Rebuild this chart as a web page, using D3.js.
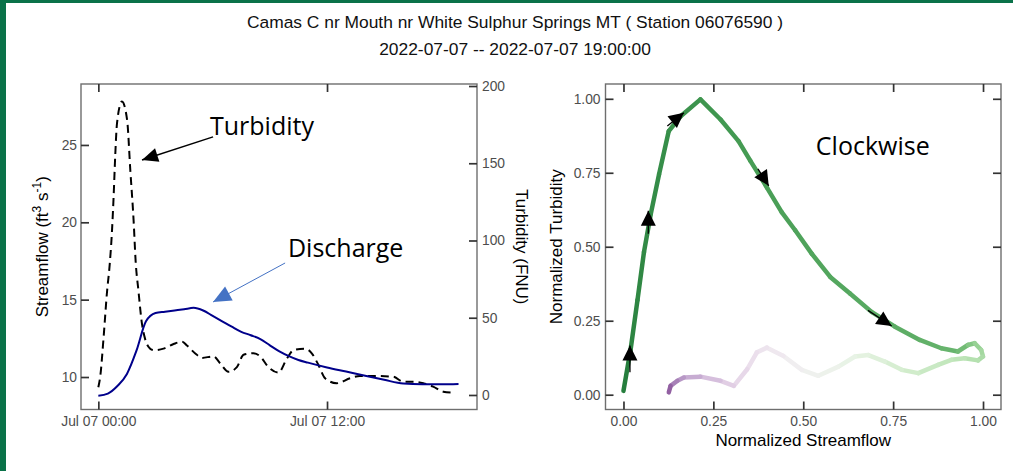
<!DOCTYPE html>
<html>
<head>
<meta charset="utf-8">
<script src="https://cdn.jsdelivr.net/npm/d3@7"></script>
<style>
  html, body { margin: 0; padding: 0; background: #fff; }
  svg { display: block; font-family: "Liberation Sans", Arial, sans-serif; }
</style>
</head>
<body>
<svg id="chart" width="1013" height="471"></svg>
<script>
// ---- data ----
const titleLines = [
  'Camas C nr Mouth nr White Sulphur Springs MT ( Station 06076590 )',
  '2022-07-07 -- 2022-07-07 19:00:00'
];

// hours after 2022-07-07 00:00
const dischargeHours = [0, 0.5, 1, 1.5, 2, 2.5, 3, 3.5, 4, 4.5, 5, 5.5, 6, 6.5, 7, 7.5, 8, 8.5, 9, 9.5,
  10, 10.5, 11, 11.5, 12, 13, 14, 15, 16, 17, 18, 18.9];
const discharge = [8.79, 8.93, 9.42, 10.2, 11.7, 13.6, 14.14, 14.22, 14.3, 14.38, 14.47, 14.3, 13.95, 13.6,
  13.25, 12.92, 12.7, 12.45, 12.05, 11.66, 11.35, 11.1, 10.93, 10.77, 10.62, 10.35, 10.08, 9.82, 9.58,
  9.53, 9.53, 9.55];

const turbHours = [0, 0.1, 0.28, 0.45, 0.6, 0.72, 0.8, 0.89, 0.98, 1.24, 1.51, 1.68, 1.85, 1.96, 2.1,
  2.29, 2.46, 2.72, 2.9, 3.42, 3.95, 4.4, 4.65, 5.17, 5.43, 6.04, 6.39, 6.83, 7.27, 7.62, 8.14, 8.49,
  8.93, 9.45, 9.9, 10.24, 10.85, 11.2, 11.55, 11.9, 12.5, 13.21, 13.73, 14.6, 15.48, 16.0, 16.52,
  17.05, 17.57, 18.1, 18.54];
const turbidity = [5, 12, 38, 66, 85, 107, 128, 156, 176, 190, 178, 145, 113, 86, 68, 46, 36, 30, 29,
  30, 33, 34.5, 32, 26, 24, 25, 20.5, 15, 18, 26, 27, 25, 18, 14.5, 23.7, 29, 30, 27, 19.4, 10.8, 7.6,
  10.8, 12.3, 12.3, 11.8, 8.6, 8.6, 7.6, 5.4, 2.1, 1.5];

// hysteresis loop (normalized), with the hour each point belongs to (drives the colour)
const hystQ = [0.0, 0.02, 0.039, 0.057, 0.076, 0.099, 0.126, 0.159, 0.214, 0.27, 0.32, 0.353, 0.399,
  0.44, 0.478, 0.524, 0.575, 0.63, 0.69, 0.755, 0.824, 0.884, 0.93, 0.958, 0.977, 0.995, 1.0, 0.986,
  0.949, 0.912, 0.875, 0.82, 0.774, 0.727, 0.681, 0.644, 0.598, 0.542, 0.496, 0.445, 0.399, 0.371,
  0.344, 0.307, 0.27, 0.214, 0.168, 0.15, 0.131, 0.126];
const hystT = [0.013, 0.154, 0.32, 0.482, 0.611, 0.745, 0.891, 0.941, 0.998, 0.93, 0.857, 0.79, 0.70,
  0.617, 0.555, 0.476, 0.398, 0.342, 0.28, 0.23, 0.185, 0.157, 0.146, 0.168, 0.174, 0.151, 0.129,
  0.116, 0.123, 0.118, 0.101, 0.073, 0.084, 0.112, 0.134, 0.129, 0.095, 0.064, 0.084, 0.131, 0.159,
  0.143, 0.086, 0.030, 0.047, 0.061, 0.058, 0.047, 0.030, 0.008];
const hystHours = [0, 0.5, 0.7, 0.8, 0.9, 1.0, 1.1, 1.2, 1.35, 1.5, 1.6, 1.68, 1.8, 1.9, 2.0, 2.1, 2.2,
  2.3, 2.4, 2.5, 2.65, 2.85, 3.0, 3.6, 4.3, 5.0, 5.3, 5.7, 6.1, 6.4, 6.7, 7.1, 7.5, 7.9, 8.4, 8.8, 9.3,
  9.8, 10.2, 10.8, 11.3, 11.6, 12.0, 12.6, 13.2, 14.3, 15.3, 16.3, 17.5, 19];

// direction arrows on the loop: [q, t] from -> to
const loopArrowFrom = [[0.018, 0.076], [0.069, 0.544], [0.122, 0.908], [0.374, 0.763], [0.68, 0.285]];
const loopArrowTo = [[0.018, 0.166], [0.069, 0.622], [0.168, 0.953], [0.404, 0.706], [0.746, 0.232]];

// axis ticks
const streamflowTicks = [10, 15, 20, 25];
const turbidityTicks = [0, 50, 100, 150, 200];
const timeTicks = [0, 12];
const normTicks = [0, 0.25, 0.5, 0.75, 1];

// callouts: text position and arrow in data units (hour, streamflow)
const turbLabel = { text: 'Turbidity', at: [5.86, 25.65], from: [6.02, 25.52], to: [2.29, 24.03] };
const dischLabel = { text: 'Discharge', at: [9.95, 17.76], from: [9.8, 17.37], to: [6.02, 14.85] };
const loopLabel = { text: 'Clockwise', at: [0.535, 0.81] };

// ---- setup ----
const svg = d3.select('#chart');
const tickFont = '13.8px';
const labelFont = '17px';
const calloutFont = '"Open Sans", "Noto Sans", sans-serif';
const startDate = new Date(2022, 6, 7, 0, 0);
const toDate = h => new Date(+startDate + h * 3600e3);

// border strips
svg.append('rect').attr('x', 0).attr('y', 0).attr('width', 6).attr('height', 471).attr('fill', '#0a7249');
svg.append('rect').attr('x', 0).attr('y', 0).attr('width', 1013).attr('height', 3).attr('fill', '#0a7249');

svg.selectAll('text.title')
  .data(titleLines)
  .join('text')
  .attr('class', 'title')
  .attr('x', 515)
  .attr('y', (d, i) => 28 + i * 27)
  .attr('text-anchor', 'middle')
  .attr('font-size', '17.4px')
  .attr('fill', '#111')
  .text(d => d);

function styleAxis(g) {
  g.select('.domain').remove();
  g.attr('font-size', tickFont).attr('font-family', '"Liberation Sans", Arial, sans-serif');
  g.selectAll('.tick line').attr('stroke', '#333').attr('stroke-width', 1.7);
  g.selectAll('.tick text').attr('fill', '#4d4d4d');
}

function arrowHead(x1, y1, x2, y2, len, width) {
  const dx = x2 - x1, dy = y2 - y1;
  const d = Math.sqrt(dx * dx + dy * dy);
  const ux = dx / d, uy = dy / d;
  const bx = x2 - ux * len, by = y2 - uy * len;
  const px = -uy * width / 2, py = ux * width / 2;
  return `M${x2},${y2}L${bx + px},${by + py}L${bx - px},${by - py}Z`;
}

function drawArrow(g, x1, y1, x2, y2, color, lineWidth, len, width) {
  g.append('line')
    .attr('x1', x1).attr('y1', y1).attr('x2', x2).attr('y2', y2)
    .attr('stroke', color).attr('stroke-width', lineWidth);
  g.append('path').attr('d', arrowHead(x1, y1, x2, y2, len, width)).attr('fill', color);
}

function frame(box) {
  svg.append('rect')
    .attr('x', box.left).attr('y', box.top)
    .attr('width', box.right - box.left).attr('height', box.bottom - box.top)
    .attr('fill', 'none').attr('stroke', '#6e6e6e').attr('stroke-width', 1.4);
}

// ---- left panel: time series with two y axes ----
const L = { left: 81, right: 477, top: 84, bottom: 409.5 };

const xTime = d3.scaleTime().domain([toDate(-0.91), toDate(19.87)]).range([L.left, L.right]);
const yFlow = d3.scaleLinear().domain([7.9, 28.94]).range([L.bottom, L.top]);
const yTurb = d3.scaleLinear().domain([-9.4, 201.3]).range([L.bottom, L.top]);

svg.append('clipPath').attr('id', 'clipL')
  .append('rect').attr('x', L.left).attr('y', L.top)
  .attr('width', L.right - L.left).attr('height', L.bottom - L.top);

const left = svg.append('g').attr('clip-path', 'url(#clipL)');

const turbLine = d3.line()
  .x(i => xTime(toDate(turbHours[i])))
  .y(i => yTurb(turbidity[i]))
  .curve(d3.curveMonotoneX);
left.append('path')
  .attr('d', turbLine(d3.range(turbHours.length)))
  .attr('fill', 'none').attr('stroke', '#000').attr('stroke-width', 2)
  .attr('stroke-dasharray', '8,5');

const flowLine = d3.line()
  .x(i => xTime(toDate(dischargeHours[i])))
  .y(i => yFlow(discharge[i]))
  .curve(d3.curveMonotoneX);
left.append('path')
  .attr('d', flowLine(d3.range(dischargeHours.length)))
  .attr('fill', 'none').attr('stroke', '#00008b').attr('stroke-width', 2);

frame(L);

svg.append('g').attr('transform', `translate(0,${L.bottom})`)
  .call(d3.axisBottom(xTime).tickValues(timeTicks.map(toDate))
    .tickFormat(d3.timeFormat('%b %d %H:%M')).tickSize(-8).tickPadding(7))
  .call(styleAxis);
svg.append('g').attr('transform', `translate(0,${L.top})`)
  .call(d3.axisTop(xTime).tickValues(timeTicks.map(toDate)).tickFormat('').tickSize(-8))
  .call(styleAxis);
svg.append('g').attr('transform', `translate(${L.left},0)`)
  .call(d3.axisLeft(yFlow).tickValues(streamflowTicks).tickSize(-8).tickPadding(4))
  .call(styleAxis);
svg.append('g').attr('transform', `translate(${L.right},0)`)
  .call(d3.axisRight(yTurb).tickValues(turbidityTicks).tickSize(-8).tickPadding(5))
  .call(styleAxis);

// axis titles
const flowTitle = svg.append('text')
  .attr('transform', `translate(48,${(L.top + L.bottom) / 2}) rotate(-90)`)
  .attr('text-anchor', 'middle').attr('font-size', labelFont).attr('fill', '#000');
flowTitle.append('tspan').text('Streamflow (ft');
flowTitle.append('tspan').attr('font-size', '12px').attr('dy', -7).text('3');
flowTitle.append('tspan').attr('dy', 7).text(' s');
flowTitle.append('tspan').attr('font-size', '12px').attr('dy', -7).text('-1');
flowTitle.append('tspan').attr('dy', 7).text(')');

svg.append('text')
  .attr('transform', `translate(516,${(L.top + L.bottom) / 2}) rotate(90)`)
  .attr('text-anchor', 'middle').attr('font-size', labelFont).attr('fill', '#000')
  .text('Turbidity (FNU)');

// callouts
const callouts = svg.append('g');
[turbLabel, dischLabel].forEach(c => {
  callouts.append('text')
    .attr('x', xTime(toDate(c.at[0]))).attr('y', yFlow(c.at[1]))
    .attr('font-family', calloutFont).attr('font-size', '25px').attr('fill', '#000')
    .text(c.text);
});
drawArrow(callouts,
  xTime(toDate(turbLabel.from[0])), yFlow(turbLabel.from[1]),
  xTime(toDate(turbLabel.to[0])), yFlow(turbLabel.to[1]), '#000', 1.5, 16, 14);
drawArrow(callouts,
  xTime(toDate(dischLabel.from[0])), yFlow(dischLabel.from[1]),
  xTime(toDate(dischLabel.to[0])), yFlow(dischLabel.to[1]), '#4472c4', 1, 18, 16);

// ---- right panel: hysteresis loop ----
const R = { left: 605.5, right: 1001, top: 84, bottom: 409.5 };
const xQ = d3.scaleLinear().domain([-0.05, 1.05]).range([R.left, R.right]);
const yT = d3.scaleLinear().domain([-0.05, 1.05]).range([R.bottom, R.top]);

// colour by time: green (start) through white to purple (end)
const loopColor = d3.scaleLinear().domain([0, 19]).range([0.9, 0.15]);

const loop = svg.append('g');
d3.range(hystQ.length - 1).forEach(i => {
  const mid = (hystHours[i] + hystHours[i + 1]) / 2;
  loop.append('line')
    .attr('x1', xQ(hystQ[i])).attr('y1', yT(hystT[i]))
    .attr('x2', xQ(hystQ[i + 1])).attr('y2', yT(hystT[i + 1]))
    .attr('stroke', d3.interpolatePRGn(loopColor(mid)))
    .attr('stroke-width', 4.5)
    .attr('stroke-linecap', 'round');
});

loopArrowFrom.forEach((f, i) => {
  const t = loopArrowTo[i];
  drawArrow(loop, xQ(f[0]), yT(f[1]), xQ(t[0]), yT(t[1]), '#000', 1.3, 15, 15);
});

loop.append('text')
  .attr('x', xQ(loopLabel.at[0])).attr('y', yT(loopLabel.at[1]))
  .attr('font-family', calloutFont).attr('font-size', '25px').attr('fill', '#000')
  .text(loopLabel.text);

frame(R);

const fmt2 = d3.format('.2f');
svg.append('g').attr('transform', `translate(0,${R.bottom})`)
  .call(d3.axisBottom(xQ).tickValues(normTicks).tickFormat(fmt2).tickSize(-8).tickPadding(7))
  .call(styleAxis);
svg.append('g').attr('transform', `translate(0,${R.top})`)
  .call(d3.axisTop(xQ).tickValues(normTicks).tickFormat('').tickSize(-8))
  .call(styleAxis);
svg.append('g').attr('transform', `translate(${R.left},0)`)
  .call(d3.axisLeft(yT).tickValues(normTicks).tickFormat(fmt2).tickSize(-8).tickPadding(5))
  .call(styleAxis);
svg.append('g').attr('transform', `translate(${R.right},0)`)
  .call(d3.axisRight(yT).tickValues(normTicks).tickFormat('').tickSize(-8))
  .call(styleAxis);

svg.append('text')
  .attr('x', (R.left + R.right) / 2).attr('y', 446)
  .attr('text-anchor', 'middle').attr('font-size', labelFont).attr('fill', '#000')
  .text('Normalized Streamflow');
svg.append('text')
  .attr('transform', `translate(562,${(R.top + R.bottom) / 2}) rotate(-90)`)
  .attr('text-anchor', 'middle').attr('font-size', labelFont).attr('fill', '#000')
  .text('Normalized Turbidity');
</script>
</body>
</html>
